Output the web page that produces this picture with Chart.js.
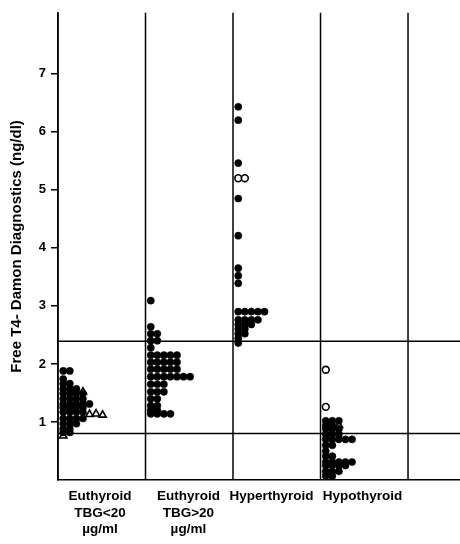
<!DOCTYPE html>
<html>
<head>
<meta charset="utf-8">
<script src="https://cdn.jsdelivr.net/npm/chart.js@4.4.1/dist/chart.umd.min.js"></script>
<style>
  html, body { margin: 0; padding: 0; background: #fff; overflow: hidden; }
  #wrap { width: 460px; height: 544px; position: relative; }
</style>
</head>
<body>
<div id="wrap"><canvas id="c"></canvas></div>
<script>
// ---- data (rows: [value, count, startSlot]) ----
const categories = [
  ['Euthyroid', 'TBG<20', 'µg/ml'],
  ['Euthyroid', 'TBG>20', 'µg/ml'],
  ['Hyperthyroid'],
  ['Hypothyroid']
];
const categoryCenters = [0.48, 1.49, 2.44, 3.48];
const yTickValues = [1, 2, 3, 4, 5, 6, 7];
const upperLimit = 2.39;
const lowerLimit = 0.80;

const euthyLowFilled = [
  [1.88, 2, 0], [1.74, 1, 0], [1.66, 2, 0], [1.57, 3, 0], [1.49, 4, 0],
  [1.40, 4, 0], [1.31, 5, 0], [1.25, 4, 0], [1.17, 4, 0], [1.06, 4, 0],
  [0.97, 3, 0], [0.88, 2, 0], [0.82, 2, 0]
];
const euthyLowTriangles = [
  [1.52, 1, 3], [1.13, 1, 4], [1.14, 1, 5], [1.12, 1, 6], [0.76, 1, 0]
];
const euthyHighFilled = [
  [3.09, 1, 0], [2.64, 1, 0], [2.52, 2, 0], [2.40, 2, 0], [2.28, 1, 0],
  [2.15, 5, 0], [2.03, 5, 0], [1.91, 5, 0], [1.78, 7, 0], [1.65, 3, 0],
  [1.52, 3, 0], [1.40, 2, 0], [1.28, 2, 0], [1.20, 2, 0], [1.14, 4, 0]
];
const hyperFilled = [
  [6.43, 1, 0], [6.20, 1, 0], [5.46, 1, 0], [4.85, 1, 0], [4.21, 1, 0],
  [3.65, 1, 0], [3.52, 1, 0], [3.39, 1, 0], [2.90, 5, 0], [2.76, 4, 0],
  [2.68, 3, 0], [2.60, 2, 0], [2.52, 2, 0], [2.44, 1, 0], [2.36, 1, 0]
];
const hyperOpen = [[5.20, 2, 0]];
const hypoFilled = [
  [1.02, 3, 0], [0.94, 2, 0], [0.88, 3, 0], [0.79, 3, 0], [0.70, 5, 0],
  [0.60, 2, 0], [0.50, 1, 0], [0.41, 2, 0], [0.31, 5, 0], [0.25, 4, 0],
  [0.15, 3, 0], [0.07, 2, 0]
];
const hypoOpen = [[1.90, 1, 0], [1.26, 1, 0]];
const hypoTriangles = [[0.94, 1, 2]];

// ---- build points ----
const SLOT0 = 0.06, SLOT = 0.075;
function expand(rows, cat) {
  const pts = [];
  rows.forEach(([v, n, s]) => {
    for (let i = 0; i < n; i++) pts.push({ x: cat + SLOT0 + (s + i) * SLOT, y: v });
  });
  return pts;
}
const XMAX = 4.594, YMAX = 8.05;

const filledStyle = { type: 'scatter', pointStyle: 'circle', pointRadius: 3.6, pointBackgroundColor: '#000', pointBorderColor: '#000', pointBorderWidth: 0.5 };
const openStyle = { type: 'scatter', pointStyle: 'circle', pointRadius: 3.4, pointBackgroundColor: '#fff', pointBorderColor: '#000', pointBorderWidth: 1.6 };
const triStyle = { type: 'scatter', pointStyle: 'triangle', pointRadius: 4.2, pointBackgroundColor: '#fff', pointBorderColor: '#000', pointBorderWidth: 1.6 };
const lineStyle = { type: 'line', borderColor: '#000', borderWidth: 1.5, pointRadius: 0, fill: false, clip: false };

const datasets = [];
[0, 1, 2, 3, 4].forEach(k => datasets.push(Object.assign({ data: [{ x: k, y: 0 }, { x: k, y: YMAX }] }, lineStyle)));
datasets.push(Object.assign({ data: [{ x: 0, y: upperLimit }, { x: XMAX, y: upperLimit }] }, lineStyle));
datasets.push(Object.assign({ data: [{ x: 0, y: lowerLimit }, { x: XMAX, y: lowerLimit }] }, lineStyle));
datasets.push(Object.assign({ data: expand(euthyLowFilled, 0) }, filledStyle));
datasets.push(Object.assign({ data: expand(euthyHighFilled, 1) }, filledStyle));
datasets.push(Object.assign({ data: expand(hyperFilled, 2) }, filledStyle));
datasets.push(Object.assign({ data: expand(hypoFilled, 3) }, filledStyle));
datasets.push(Object.assign({ data: expand(hyperOpen, 2) }, openStyle));
datasets.push(Object.assign({ data: expand(hypoOpen, 3) }, openStyle));
datasets.push(Object.assign({ data: expand(euthyLowTriangles, 0) }, triStyle));
datasets.push(Object.assign({ data: expand(hypoTriangles, 3) }, triStyle));

new Chart(document.getElementById('c'), {
  type: 'scatter',
  data: { datasets },
  options: {
    responsive: true,
    maintainAspectRatio: false,
    animation: false,
    events: [],
    layout: { autoPadding: false, padding: { top: 6, right: 0, left: 0, bottom: 0 } },
    plugins: { legend: { display: false }, tooltip: { enabled: false } },
    scales: {
      x: {
        type: 'linear', min: 0, max: XMAX,
        afterBuildTicks: s => { s.ticks = categoryCenters.map(v => ({ value: v })); },
        afterFit: s => { s.height = 64; s.paddingLeft = 0; s.paddingRight = 0; },
        grid: { display: false, drawOnChartArea: false, drawTicks: false },
        border: { display: true, color: '#000', width: 1.5 },
        ticks: {
          color: '#000', padding: 8, maxRotation: 0, autoSkip: false,
          font: { family: 'Liberation Sans, Arial, sans-serif', size: 13.5, weight: 'bold', lineHeight: 1.23 },
          callback: (v, i) => categories[i]
        }
      },
      y: {
        type: 'linear', min: 0, max: YMAX,
        afterBuildTicks: s => { s.ticks = yTickValues.map(v => ({ value: v })); },
        afterFit: s => { s.width = 58; },
        grid: { drawOnChartArea: false, drawTicks: true, tickLength: 7, color: '#000', lineWidth: 1.5 },
        border: { display: true, color: '#000', width: 1.5 },
        ticks: {
          color: '#000', padding: 5,
          font: { family: 'Liberation Sans, Arial, sans-serif', size: 13, weight: 'bold' },
          callback: v => String(v)
        },
        title: {
          display: true, text: 'Free T4- Damon Diagnostics (ng/dl)', color: '#000',
          font: { family: 'Liberation Sans, Arial, sans-serif', size: 15, weight: 'bold' },
          padding: { top: 8, bottom: 0 }
        }
      }
    }
  }
});
</script>
</body>
</html>
